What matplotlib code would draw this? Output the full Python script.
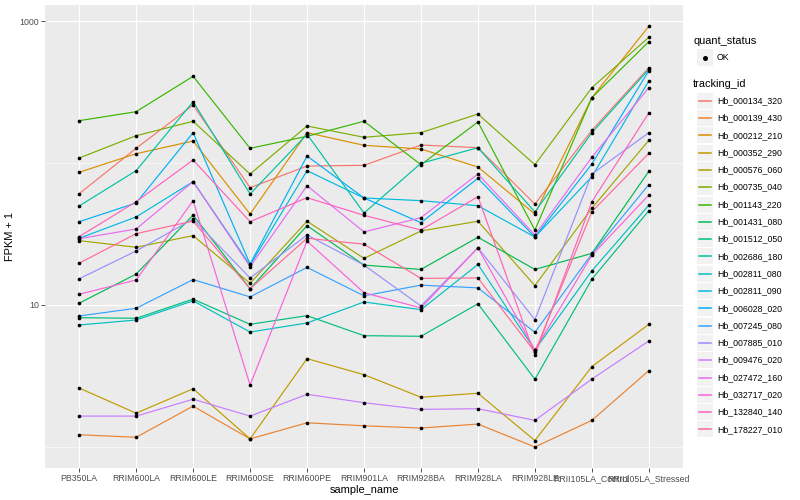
import numpy as np
import matplotlib
matplotlib.use('Agg')
import matplotlib.pyplot as plt
from matplotlib.ticker import FixedLocator, FixedFormatter, NullFormatter
from matplotlib.lines import Line2D
from matplotlib.patches import Rectangle

plt.rcParams['font.family'] = ['Liberation Sans', 'DejaVu Sans']

samples = ['PB350LA', 'RRIM600LA', 'RRIM600LE', 'RRIM600SE', 'RRIM600PE', 'RRIM901LA',
           'RRIM928BA', 'RRIM928LA', 'RRIM928LE', 'RRII105LA_Control', 'RRII105LA_Stressed']

tracking_ids = ['Hb_000134_320', 'Hb_000139_430', 'Hb_000212_210', 'Hb_000352_290',
                'Hb_000576_060', 'Hb_000735_040', 'Hb_001143_220', 'Hb_001431_080',
                'Hb_001512_050', 'Hb_002686_180', 'Hb_002811_080', 'Hb_002811_090',
                'Hb_006028_020', 'Hb_007245_080', 'Hb_007885_010', 'Hb_009476_020',
                'Hb_027472_160', 'Hb_032717_020', 'Hb_132840_140', 'Hb_178227_010']

# FPKM + 1, one list per gene, same order as samples
hb_000134_320 = [60.8, 126.9, 256, 67.0, 95.2, 96.3, 133.9, 128.2, 51.4, 169.9, 469]
hb_000139_430 = [1.22, 1.17, 1.94, 1.14, 1.48, 1.41, 1.36, 1.45, 1.0, 1.54, 3.45]
hb_000212_210 = [86.0, 116.3, 142.8, 43.7, 163.5, 133.2, 125.5, 93.7, 43.7, 288.4, 918]
hb_000352_290 = [2.60, 1.73, 2.57, 1.14, 4.19, 3.23, 2.24, 2.39, 1.11, 3.68, 7.31]
hb_000576_060 = [28.4, 25.5, 30.8, 14.2, 38.9, 21.3, 33.2, 38.9, 13.7, 48.0, 144.5]
hb_000735_040 = [108.4, 155.7, 196.7, 83.6, 182.2, 151.7, 163.5, 221.3, 97.3, 339, 768]
hb_001143_220 = [198.6, 229.8, 407.9, 126.9, 154.2, 196.7, 97.3, 194.4, 33.7, 288.4, 715]
hb_001431_080 = [10.3, 16.5, 43.0, 13.0, 36.2, 19.1, 17.8, 30.0, 17.8, 23.1, 87.4]
hb_001512_050 = [8.14, 8.06, 11.0, 7.31, 8.41, 6.08, 6.02, 10.2, 3.0, 15.2, 46.1]
hb_002686_180 = [49.8, 88.3, 270.2, 60.5, 159.3, 44.4, 99.5, 128.2, 45.2, 163.5, 457]
hb_002811_080 = [7.23, 7.84, 10.7, 6.45, 7.47, 10.5, 9.27, 19.3, 4.82, 17.4, 50.4]
hb_002811_090 = [29.5, 41.7, 73.9, 19.1, 88.3, 56.7, 54.3, 50.0, 30.1, 80.1, 378]
hb_006028_020 = [38.6, 52.3, 163.5, 19.4, 112, 56.7, 38.0, 78.0, 30.1, 98.4, 447]
hb_007245_080 = [8.37, 9.48, 15.1, 11.4, 18.4, 11.6, 13.8, 13.2, 6.42, 22.9, 70.4]
hb_007885_010 = [15.3, 24.0, 40.3, 15.5, 31.1, 19.1, 9.84, 25.3, 7.88, 83.6, 163.5]
hb_009476_020 = [1.65, 1.65, 2.17, 1.65, 2.35, 2.05, 1.84, 1.86, 1.54, 3.01, 5.58]
hb_027472_160 = [29.3, 34.3, 73.9, 18.6, 69.2, 32.7, 41.2, 83.6, 31.1, 109.7, 339]
hb_032717_020 = [11.9, 15.0, 54.3, 2.73, 28.2, 12.2, 9.53, 25.3, 4.82, 22.4, 59.5]
hb_132840_140 = [30.3, 53.4, 105, 38.6, 57.0, 42.8, 33.7, 57.9, 4.44, 53.4, 225]
hb_178227_010 = [19.7, 31.8, 39.0, 13.0, 29.5, 26.8, 15.4, 15.5, 4.67, 45.4, 117]

series = [hb_000134_320, hb_000139_430, hb_000212_210, hb_000352_290, hb_000576_060,
          hb_000735_040, hb_001143_220, hb_001431_080, hb_001512_050, hb_002686_180,
          hb_002811_080, hb_002811_090, hb_006028_020, hb_007245_080, hb_007885_010,
          hb_009476_020, hb_027472_160, hb_032717_020, hb_132840_140, hb_178227_010]


def hcl_hex(h, c=100.0, l=65.0):
    # polar Luv -> sRGB, like R's hcl()
    xn, yn, zn = 95.047, 100.0, 108.883
    un = 4 * xn / (xn + 15 * yn + 3 * zn)
    vn = 9 * yn / (xn + 15 * yn + 3 * zn)
    u = c * np.cos(np.radians(h))
    v = c * np.sin(np.radians(h))
    y = yn * ((l + 16) / 116) ** 3
    up = u / (13 * l) + un
    vp = v / (13 * l) + vn
    x = 9 * y * up / (4 * vp)
    z = -x / 3 - 5 * y + 3 * y / vp
    x, y, z = x / 100, y / 100, z / 100
    r = 3.240479 * x - 1.537150 * y - 0.498535 * z
    g = -0.969256 * x + 1.875992 * y + 0.041556 * z
    b = 0.055648 * x - 0.204043 * y + 1.057311 * z
    out = []
    for ch in (r, g, b):
        ch = 12.92 * ch if ch <= 0.0031308 else 1.055 * ch ** (1 / 2.4) - 0.055
        out.append(min(max(ch, 0), 1))
    return tuple(out)


n = len(tracking_ids)
hues = np.linspace(15, 375, n + 1)[:n]
colors = [hcl_hex(h) for h in hues]

W, H = 800, 500
fig = plt.figure(figsize=(8, 5), dpi=100)
ax = fig.add_axes([45 / W, 1 - 468 / H, (683 - 45) / W, (468 - 5) / H])
ax.set_facecolor('#EBEBEB')
for s in ax.spines.values():
    s.set_visible(False)

x = np.arange(len(samples))
for vals, col in zip(series, colors):
    ax.plot(x, vals, color=col, lw=0.85, zorder=2)
for vals in series:
    ax.scatter(x, vals, s=7, color='black', zorder=3, linewidths=0)

ax.set_yscale('log')
ax.set_ylim(10 ** -0.148, 10 ** 3.1127)
ax.set_xlim(-0.6, len(samples) - 1 + 0.6)
ax.yaxis.set_major_locator(FixedLocator([10, 1000]))
ax.yaxis.set_major_formatter(FixedFormatter(['10', '1000']))
ax.yaxis.set_minor_locator(FixedLocator([1, 100]))
ax.yaxis.set_minor_formatter(NullFormatter())
ax.set_xticks(x)
ax.set_xticklabels(samples)

ax.grid(True, which='major', color='white', lw=0.8, zorder=0)
ax.grid(True, which='minor', axis='y', color='white', lw=0.4, zorder=0)
ax.set_axisbelow(True)
ax.tick_params(which='major', length=2.7, width=0.6, color='#333333',
               labelcolor='#4D4D4D', labelsize=6.3, pad=1.8)
ax.tick_params(which='minor', length=0)

ax.set_xlabel('sample_name', fontsize=7.9, labelpad=1.5)
ax.set_ylabel('FPKM + 1', fontsize=7.9, labelpad=3)


def fx(px):
    return px / W


def fy(py):
    return 1 - py / H


# legend: quant_status
fig.text(fx(693), fy(40.5), 'quant_status', fontsize=7.9, va='center', ha='left')
fig.add_artist(Rectangle((fx(697), fy(65.5)), 16 / W, 16 / H, transform=fig.transFigure,
                         facecolor='#F2F2F2', edgecolor='none', zorder=1))
fig.add_artist(Line2D([fx(705)], [fy(57.5)], marker='o', markersize=2.6, color='black',
                      linestyle='none', transform=fig.transFigure, zorder=3))
fig.text(fx(717), fy(57.5), 'OK', fontsize=6.3, va='center', ha='left')

# legend: tracking_id
fig.text(fx(693), fy(84.3), 'tracking_id', fontsize=7.9, va='center', ha='left')
for i, (tid, col) in enumerate(zip(tracking_ids, colors)):
    cy = 100.7 + 17.3 * i
    fig.add_artist(Rectangle((fx(697), fy(cy + 8)), 16 / W, 16 / H,
                             transform=fig.transFigure, facecolor='#F2F2F2',
                             edgecolor='none', zorder=1))
    fig.add_artist(Line2D([fx(699), fx(711)], [fy(cy), fy(cy)], color=col, lw=1.1,
                          transform=fig.transFigure, zorder=3))
    fig.text(fx(717), fy(cy), tid, fontsize=6.3, va='center', ha='left')

fig.savefig('out.png', dpi=100)
